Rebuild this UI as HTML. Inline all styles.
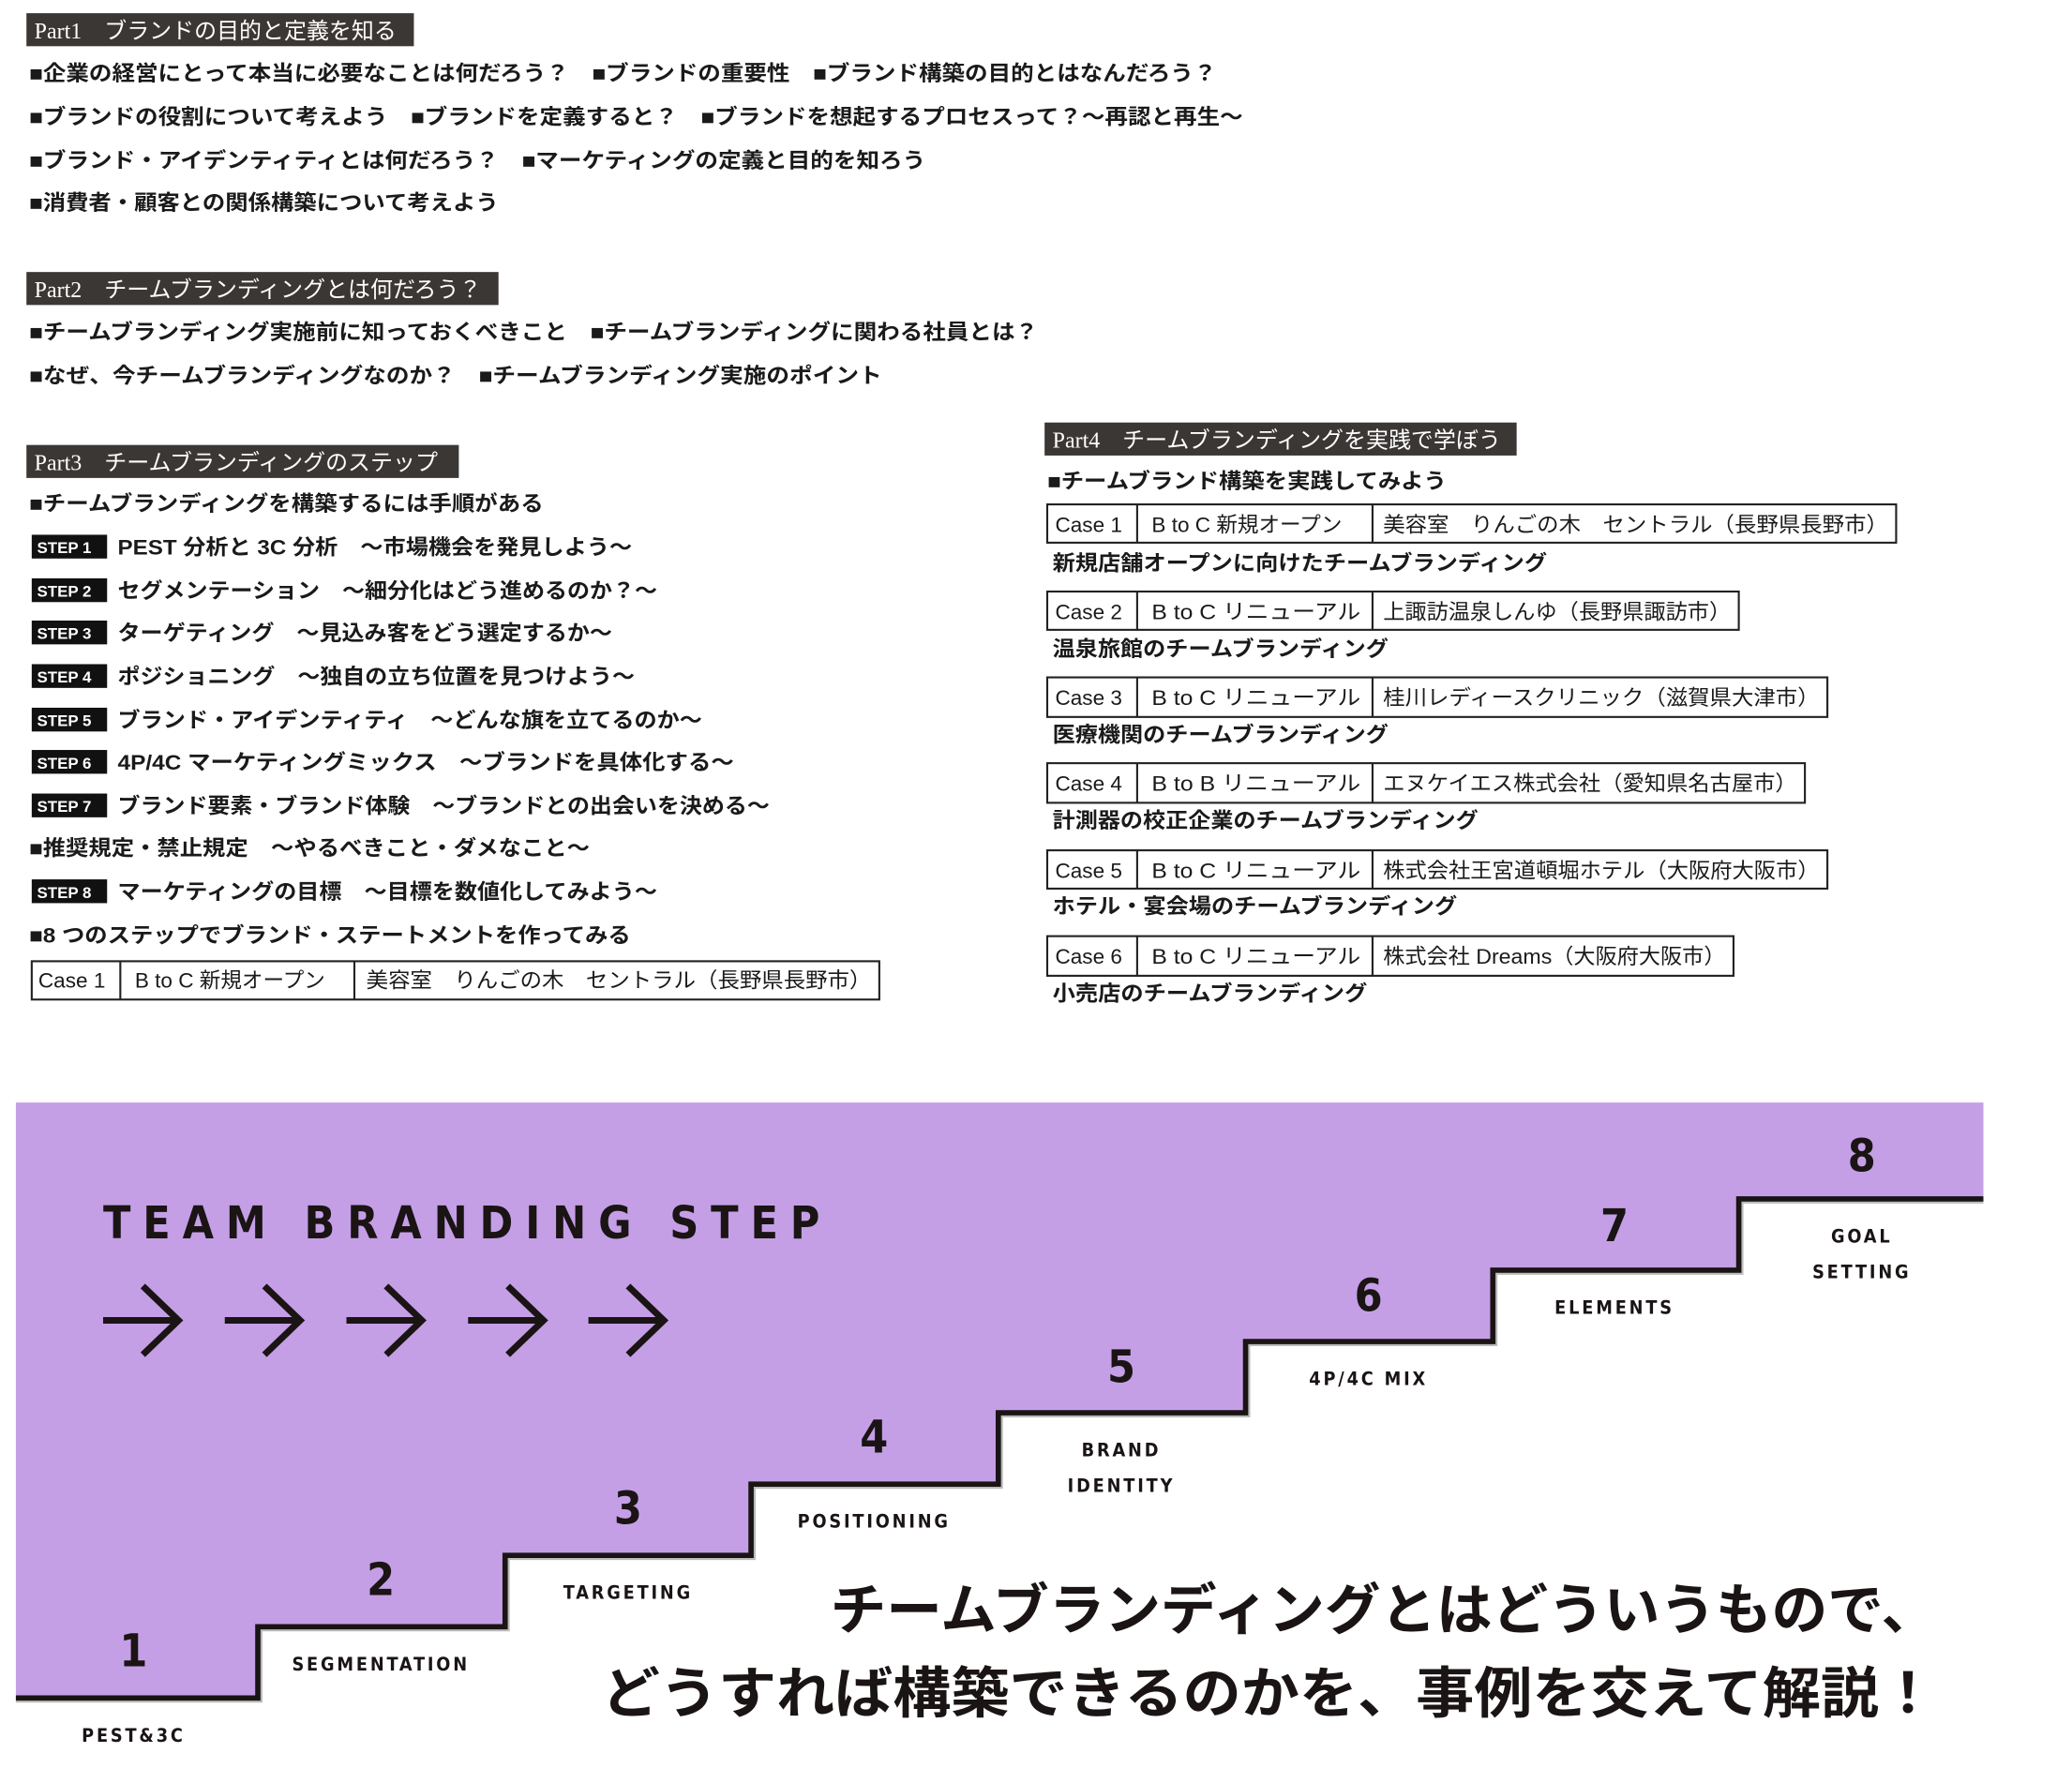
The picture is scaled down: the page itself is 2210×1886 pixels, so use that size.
<!DOCTYPE html>
<html><head><meta charset="utf-8"><style>
html,body{margin:0;padding:0;background:#fff;width:2210px;height:1886px;overflow:hidden}
svg{display:block}
.j{font-family:"Liberation Sans","Noto Sans CJK JP",sans-serif;font-size:16px;font-weight:bold;fill:#1a1a1a}
.h{font-family:"Liberation Serif","Noto Sans CJK JP",serif;font-size:17px;fill:#fff}
.c{font-family:"Liberation Sans","Noto Sans CJK JP",sans-serif;font-size:16px;fill:#1a1a1a}
.st{font-family:"Liberation Sans",sans-serif;font-size:12px;font-weight:bold;fill:#fff}
.n{font-family:"DejaVu Sans Condensed","Liberation Sans",sans-serif;font-size:34px;font-weight:bold;fill:#1a1414}
.l{font-family:"DejaVu Sans Condensed","Liberation Sans",sans-serif;font-size:14px;font-weight:bold;fill:#1a1414;letter-spacing:2px}
.big{font-family:"Liberation Sans","Noto Sans CJK JP",sans-serif;font-size:42px;font-weight:bold;fill:#1a1414}
</style></head><body>
<svg width="2210" height="1886" viewBox="0 0 1567 1339" preserveAspectRatio="none" xmlns="http://www.w3.org/2000/svg">
<!-- Part1 -->
<rect x="20" y="10" width="293" height="25" fill="#3b3735"/>
<text class="h" x="26" y="29">Part1　ブランドの目的と定義を知る</text>
<text class="j" x="22" y="61" textLength="898" lengthAdjust="spacingAndGlyphs">■企業の経営にとって本当に必要なことは何だろう？　■ブランドの重要性　■ブランド構築の目的とはなんだろう？</text>
<text class="j" x="22" y="94" textLength="918" lengthAdjust="spacingAndGlyphs">■ブランドの役割について考えよう　■ブランドを定義すると？　■ブランドを想起するプロセスって？～再認と再生～</text>
<text class="j" x="22" y="127" textLength="678" lengthAdjust="spacingAndGlyphs">■ブランド・アイデンティティとは何だろう？　■マーケティングの定義と目的を知ろう</text>
<text class="j" x="22" y="159" textLength="355" lengthAdjust="spacingAndGlyphs">■消費者・顧客との関係構築について考えよう</text>
<!-- Part2 -->
<rect x="20" y="206" width="357" height="25" fill="#3b3735"/>
<text class="h" x="26" y="225">Part2　チームブランディングとは何だろう？</text>
<text class="j" x="22" y="257" textLength="763" lengthAdjust="spacingAndGlyphs">■チームブランディング実施前に知っておくべきこと　■チームブランディングに関わる社員とは？</text>
<text class="j" x="22" y="290" textLength="645" lengthAdjust="spacingAndGlyphs">■なぜ、今チームブランディングなのか？　■チームブランディング実施のポイント</text>
<!-- Part3 -->
<rect x="20" y="337" width="327" height="25" fill="#3b3735"/>
<text class="h" x="26" y="356">Part3　チームブランディングのステップ</text>
<text class="j" x="22" y="387" textLength="389" lengthAdjust="spacingAndGlyphs">■チームブランディングを構築するには手順がある</text>
<g>
<rect x="24" y="405" width="57" height="18" fill="#111"/><text class="st" x="28" y="419">STEP 1</text>
<text class="j" x="89" y="420" textLength="389" lengthAdjust="spacingAndGlyphs">PEST 分析と 3C 分析　～市場機会を発見しよう～</text>
<rect x="24" y="438" width="57" height="18" fill="#111"/><text class="st" x="28" y="452">STEP 2</text>
<text class="j" x="89" y="453" textLength="408" lengthAdjust="spacingAndGlyphs">セグメンテーション　～細分化はどう進めるのか？～</text>
<rect x="24" y="470" width="57" height="18" fill="#111"/><text class="st" x="28" y="484">STEP 3</text>
<text class="j" x="89" y="485" textLength="374" lengthAdjust="spacingAndGlyphs">ターゲティング　～見込み客をどう選定するか～</text>
<rect x="24" y="503" width="57" height="18" fill="#111"/><text class="st" x="28" y="517">STEP 4</text>
<text class="j" x="89" y="518" textLength="391" lengthAdjust="spacingAndGlyphs">ポジショニング　～独自の立ち位置を見つけよう～</text>
<rect x="24" y="536" width="57" height="18" fill="#111"/><text class="st" x="28" y="550">STEP 5</text>
<text class="j" x="89" y="551" textLength="442" lengthAdjust="spacingAndGlyphs">ブランド・アイデンティティ　～どんな旗を立てるのか～</text>
<rect x="24" y="568" width="57" height="18" fill="#111"/><text class="st" x="28" y="582">STEP 6</text>
<text class="j" x="89" y="583" textLength="466" lengthAdjust="spacingAndGlyphs">4P/4C マーケティングミックス　～ブランドを具体化する～</text>
<rect x="24" y="601" width="57" height="18" fill="#111"/><text class="st" x="28" y="615">STEP 7</text>
<text class="j" x="89" y="616" textLength="493" lengthAdjust="spacingAndGlyphs">ブランド要素・ブランド体験　～ブランドとの出会いを決める～</text>
<text class="j" x="22" y="648" textLength="424" lengthAdjust="spacingAndGlyphs">■推奨規定・禁止規定　～やるべきこと・ダメなこと～</text>
<rect x="24" y="666" width="57" height="18" fill="#111"/><text class="st" x="28" y="680">STEP 8</text>
<text class="j" x="89" y="681" textLength="408" lengthAdjust="spacingAndGlyphs">マーケティングの目標　～目標を数値化してみよう～</text>
<text class="j" x="22" y="714" textLength="455" lengthAdjust="spacingAndGlyphs">■8 つのステップでブランド・ステートメントを作ってみる</text>
</g>
<g fill="none" stroke="#222" stroke-width="1.5">
<rect x="24" y="728" width="641" height="29"/><line x1="91" y1="728" x2="91" y2="757"/><line x1="268" y1="728" x2="268" y2="757"/>
</g>
<text class="c" x="29" y="748">Case 1</text><text class="c" x="102" y="748">B to C 新規オープン</text><text class="c" x="277" y="748" textLength="382" lengthAdjust="spacingAndGlyphs">美容室　りんごの木　セントラル（長野県長野市）</text>
<!-- Part4 -->
<rect x="790" y="320" width="357" height="25" fill="#3b3735"/>
<text class="h" x="796" y="339">Part4　チームブランディングを実践で学ぼう</text>
<text class="j" x="792" y="370" textLength="302" lengthAdjust="spacingAndGlyphs">■チームブランド構築を実践してみよう</text>
<g fill="none" stroke="#222" stroke-width="1.5">
<rect x="792" y="382" width="642" height="29"/><line x1="860" y1="382" x2="860" y2="411"/><line x1="1038" y1="382" x2="1038" y2="411"/>
<rect x="792" y="448" width="523" height="29"/><line x1="860" y1="448" x2="860" y2="477"/><line x1="1038" y1="448" x2="1038" y2="477"/>
<rect x="792" y="513" width="590" height="30"/><line x1="860" y1="513" x2="860" y2="543"/><line x1="1038" y1="513" x2="1038" y2="543"/>
<rect x="792" y="578" width="573" height="30"/><line x1="860" y1="578" x2="860" y2="608"/><line x1="1038" y1="578" x2="1038" y2="608"/>
<rect x="792" y="644" width="590" height="29"/><line x1="860" y1="644" x2="860" y2="673"/><line x1="1038" y1="644" x2="1038" y2="673"/>
<rect x="792" y="709" width="519" height="30"/><line x1="860" y1="709" x2="860" y2="739"/><line x1="1038" y1="709" x2="1038" y2="739"/>
</g>
<g>
<text class="c" x="798" y="403">Case 1</text><text class="c" x="871" y="403">B to C 新規オープン</text><text class="c" x="1046" y="403" textLength="382" lengthAdjust="spacingAndGlyphs">美容室　りんごの木　セントラル（長野県長野市）</text>
<text class="c" x="798" y="469">Case 2</text><text class="c" x="871" y="469" textLength="158" lengthAdjust="spacingAndGlyphs">B to C リニューアル</text><text class="c" x="1046" y="469" textLength="263" lengthAdjust="spacingAndGlyphs">上諏訪温泉しんゆ（長野県諏訪市）</text>
<text class="c" x="798" y="534">Case 3</text><text class="c" x="871" y="534" textLength="158" lengthAdjust="spacingAndGlyphs">B to C リニューアル</text><text class="c" x="1046" y="534" textLength="330" lengthAdjust="spacingAndGlyphs">桂川レディースクリニック（滋賀県大津市）</text>
<text class="c" x="798" y="599">Case 4</text><text class="c" x="871" y="599" textLength="158" lengthAdjust="spacingAndGlyphs">B to B リニューアル</text><text class="c" x="1046" y="599" textLength="313" lengthAdjust="spacingAndGlyphs">エヌケイエス株式会社（愛知県名古屋市）</text>
<text class="c" x="798" y="665">Case 5</text><text class="c" x="871" y="665" textLength="158" lengthAdjust="spacingAndGlyphs">B to C リニューアル</text><text class="c" x="1046" y="665" textLength="330" lengthAdjust="spacingAndGlyphs">株式会社王宮道頓堀ホテル（大阪府大阪市）</text>
<text class="c" x="798" y="730">Case 6</text><text class="c" x="871" y="730" textLength="158" lengthAdjust="spacingAndGlyphs">B to C リニューアル</text><text class="c" x="1046" y="730" textLength="259" lengthAdjust="spacingAndGlyphs">株式会社 Dreams（大阪府大阪市）</text>
</g>
<text class="j" x="796" y="432" textLength="374" lengthAdjust="spacingAndGlyphs">新規店舗オープンに向けたチームブランディング</text>
<text class="j" x="796" y="497" textLength="254" lengthAdjust="spacingAndGlyphs">温泉旅館のチームブランディング</text>
<text class="j" x="796" y="562" textLength="254" lengthAdjust="spacingAndGlyphs">医療機関のチームブランディング</text>
<text class="j" x="796" y="627" textLength="322" lengthAdjust="spacingAndGlyphs">計測器の校正企業のチームブランディング</text>
<text class="j" x="796" y="692" textLength="306" lengthAdjust="spacingAndGlyphs">ホテル・宴会場のチームブランディング</text>
<text class="j" x="796" y="758" textLength="238" lengthAdjust="spacingAndGlyphs">小売店のチームブランディング</text>
<!-- Staircase -->
<path d="M12,835 H1500 V908 H1315 V962 H1129 V1016 H942 V1070 H755 V1124 H568 V1178 H382 V1232 H195 V1286 H12 Z" fill="#c49fe6"/>
<path d="M12,1288 H197 V1234 H384 V1180 H570 V1126 H757 V1072 H944 V1018 H1131 V964 H1317 V910 H1500" fill="none" stroke="#bbb" stroke-width="3"/>
<path d="M12,1286 H195 V1232 H382 V1178 H568 V1124 H755 V1070 H942 V1016 H1129 V962 H1315 V908 H1500" fill="none" stroke="#1a1414" stroke-width="4"/>
<text x="78" y="938" font-family="DejaVu Sans Condensed,Liberation Sans,sans-serif" font-weight="bold" font-size="34" fill="#1a1414" textLength="542" lengthAdjust="spacing">TEAM BRANDING STEP</text>
<g fill="none" stroke="#1a1414" stroke-width="5">
<path d="M78,1000 H135 M108,974 L135,1000 L108,1026"/>
<path d="M170,1000 H227 M200,974 L227,1000 L200,1026"/>
<path d="M262,1000 H319 M292,974 L319,1000 L292,1026"/>
<path d="M354,1000 H411 M384,974 L411,1000 L384,1026"/>
<path d="M445,1000 H502 M475,974 L502,1000 L475,1026"/>
</g>
<g text-anchor="middle">
<text class="n" x="101" y="1262">1</text><text class="n" x="288" y="1208">2</text><text class="n" x="475" y="1154">3</text><text class="n" x="661" y="1100">4</text>
<text class="n" x="848" y="1047">5</text><text class="n" x="1035" y="993">6</text><text class="n" x="1221" y="940">7</text><text class="n" x="1408" y="887">8</text>
<text class="l" x="101" y="1319">PEST&amp;3C</text>
<text class="l" x="288" y="1265">SEGMENTATION</text>
<text class="l" x="475" y="1211">TARGETING</text>
<text class="l" x="661" y="1157">POSITIONING</text>
<text class="l" x="848" y="1103">BRAND</text><text class="l" x="848" y="1130">IDENTITY</text>
<text class="l" x="1035" y="1049">4P/4C MIX</text>
<text class="l" x="1221" y="995">ELEMENTS</text>
<text class="l" x="1408" y="941">GOAL</text><text class="l" x="1408" y="968">SETTING</text>
</g>
<text class="big" x="628" y="1234" textLength="837" lengthAdjust="spacingAndGlyphs">チームブランディングとはどういうもので、</text>
<text class="big" x="455" y="1297" textLength="1010" lengthAdjust="spacingAndGlyphs">どうすれば構築できるのかを、事例を交えて解説！</text>
</svg>
</body></html>
